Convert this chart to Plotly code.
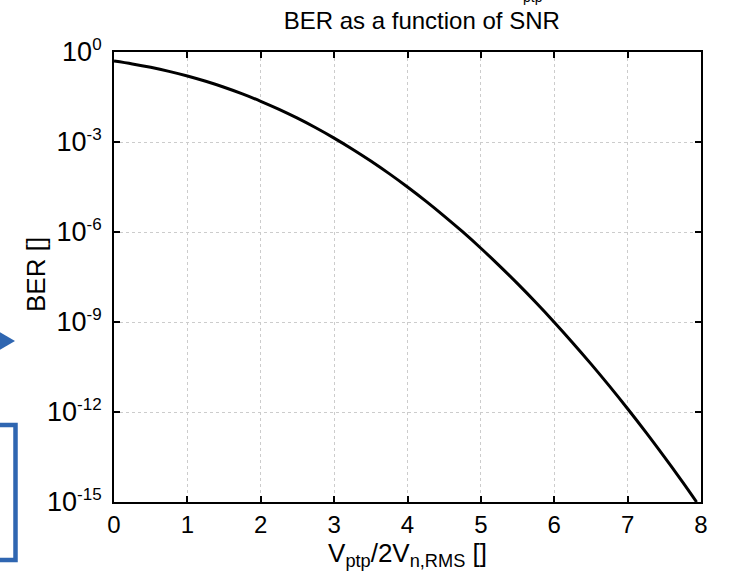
import plotly.graph_objects as go

snr = [0, 0.25, 0.5, 0.75, 1.0, 1.25, 1.5, 1.75, 2.0, 2.25, 2.5, 2.75, 3.0, 3.25, 3.5, 3.75,
       4.0, 4.25, 4.5, 4.75, 5.0, 5.25, 5.5, 5.75, 6.0, 6.25, 6.5, 6.75, 7.0, 7.25, 7.5, 7.75, 7.94]
ber = [0.5, 0.401, 0.3085, 0.2266, 0.1587, 0.1056, 0.0668, 0.0401, 0.02275, 0.01222, 0.00621,
       0.00298, 1.35e-3, 5.77e-4, 2.33e-4, 8.84e-5, 3.17e-5, 1.07e-5, 3.40e-6, 1.02e-6, 2.87e-7,
       7.6e-8, 1.90e-8, 4.46e-9, 9.87e-10, 2.05e-10, 4.02e-11, 7.4e-12, 1.28e-12, 2.09e-13,
       3.19e-14, 4.6e-15, 1.0e-15]
x_ticks = [0, 1, 2, 3, 4, 5, 6, 7, 8]
y_exps = [0, -3, -6, -9, -12, -15]
y_tickvals = [10.0 ** e for e in y_exps]
y_ticktext = ["10<sup><span style='font-size:17px'>%d</span></sup>" % e for e in y_exps]

FONT = "Liberation Sans, Arial, sans-serif"
BLUE = "#2F66B1"

fig = go.Figure()
fig.add_trace(go.Scatter(x=snr, y=ber, mode="lines", line=dict(color="black", width=3, shape="spline"),
                         showlegend=False, hoverinfo="skip"))

fig.update_layout(
    width=731, height=580,
    margin=dict(l=114, r=30, t=52, b=78),
    paper_bgcolor="white", plot_bgcolor="white",
    font=dict(family=FONT, color="black", size=24),
    title=dict(text="BER as a function of SNR", x=0.577, xanchor="center", y=0.965, yanchor="middle",
               font=dict(size=24, family=FONT, color="black")),
    xaxis=dict(range=[0, 8], tickvals=x_ticks, ticks="inside", ticklen=6, tickwidth=1.5,
               tickcolor="black", showline=True, linecolor="black", linewidth=2, mirror="ticks",
               showgrid=True, gridcolor="#cccccc", griddash="dot", gridwidth=1, zeroline=False,
               tickfont=dict(size=24, family=FONT, color="black"),
               title=dict(text="V<sub>ptp</sub>/2V<sub>n,RMS</sub> []", font=dict(size=26, family=FONT, color="black"), standoff=0)),
    yaxis=dict(type="log", range=[-15, 0], tickvals=y_tickvals, ticktext=y_ticktext, ticks="inside",
               ticklen=6, tickwidth=1.5, tickcolor="black", showline=True, linecolor="black", linewidth=2,
               mirror="ticks", showgrid=True, gridcolor="#cccccc", griddash="dot", gridwidth=1,
               zeroline=False, tickfont=dict(size=27, family=FONT, color="black"), ticklabelstandoff=5),
)

def px(xp):
    return (xp - 114) / 587

def py(yp):
    return (502 - yp) / 450

# y-axis title
fig.add_annotation(text="BER []", textangle=-90, xref="paper", yref="paper", x=px(36), y=py(275),
                   xanchor="center", yanchor="middle", showarrow=False,
                   font=dict(size=26, family=FONT, color="black"))

# fragment of cut-off text at the top
fig.add_annotation(text="ptp", xref="paper", yref="paper", x=px(533), y=py(-3),
                   xanchor="center", yanchor="middle", showarrow=False,
                   font=dict(size=14, family=FONT, color="black"))

# blue arrow and box at left edge
fig.add_shape(type="path", xref="paper", yref="paper",
              path="M %f,%f L %f,%f L %f,%f Z" % (px(-2), py(331), px(15), py(341), px(-2), py(351)),
              fillcolor=BLUE, line=dict(color=BLUE, width=0))
fig.add_shape(type="rect", xref="paper", yref="paper", x0=px(-10), x1=px(15.5), y0=py(560), y1=py(425),
              line=dict(color=BLUE, width=4.5), fillcolor="rgba(0,0,0,0)")

fig.write_html("out.html")
